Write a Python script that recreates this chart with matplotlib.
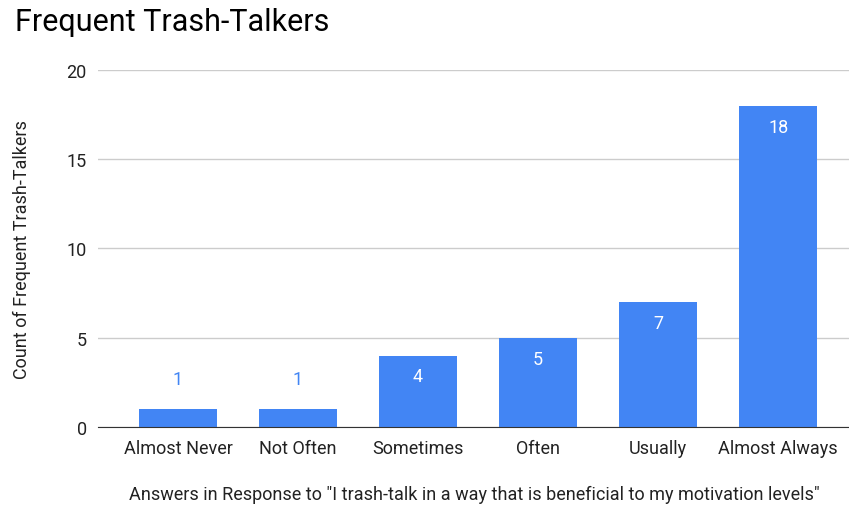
import matplotlib.pyplot as plt

categories = ['Almost Never', 'Not Often', 'Sometimes', 'Often', 'Usually', 'Almost Always']
counts = [1, 1, 4, 5, 7, 18]
y_ticks = [0, 5, 10, 15, 20]

plt.rcParams['font.family'] = ['Roboto', 'DejaVu Sans']

fig = plt.figure(figsize=(8.49, 5.10), dpi=100)
ax = fig.add_axes([0.1154, 0.1608, 0.886, 0.70])

x = range(len(categories))
bars = ax.bar(x, counts, width=0.65, color='#4285F4', zorder=3)

for xi, v in zip(x, counts):
    if v >= 3:
        ax.annotate(str(v), (xi, v), xytext=(0, -15), textcoords='offset points',
                    ha='center', va='center', color='white', fontsize=13)
    else:
        ax.annotate(str(v), (xi, v), xytext=(0, 22), textcoords='offset points',
                    ha='center', va='center', color='#4285F4', fontsize=13)

ax.set_xlim(-0.667, 5.6)
ax.set_ylim(0, 20)
ax.set_yticks(y_ticks)
ax.set_xticks(list(x))
ax.set_xticklabels(categories)
ax.tick_params(length=0, labelsize=13, colors='#222222')
ax.tick_params(axis='x', pad=9)
ax.tick_params(axis='y', pad=8)
ax.grid(axis='y', color='#cccccc', linewidth=1, zorder=0)
for s in ['top', 'right', 'left']:
    ax.spines[s].set_visible(False)
ax.spines['bottom'].set_color('#333333')
ax.spines['bottom'].set_zorder(4)

ax.set_xlabel('Answers in Response to "I trash-talk in a way that is beneficial to my motivation levels"',
              fontsize=13, color='#222222', labelpad=20)
ax.set_ylabel('Count of Frequent Trash-Talkers', fontsize=13, color='#222222', labelpad=26)
fig.text(0.018, 0.955, 'Frequent Trash-Talkers', fontsize=22, color='#000000', va='center')

fig.savefig('out.png', dpi=100)
